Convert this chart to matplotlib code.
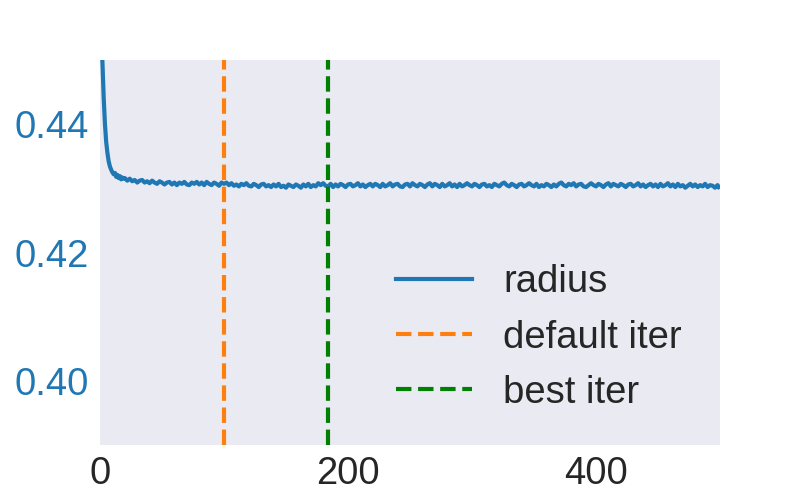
import matplotlib
matplotlib.use("Agg")
import matplotlib.pyplot as plt

plt.rcParams['font.family'] = ['Liberation Sans', 'DejaVu Sans']

# iterations at which radius was recorded
iterations = list(range(0, 20)) + list(range(20, 500, 2)) + [499]

radius = [
    0.4700, 0.4535, 0.4495, 0.4440, 0.4400, 0.4372, 0.4355, 0.4342, 0.4334, 0.4329,
    0.4325, 0.4322, 0.4324, 0.4318, 0.4321, 0.4316, 0.4319, 0.4314, 0.4317, 0.4315,
    # 20 .. 498 step 2
    0.4316, 0.4312, 0.4315, 0.4311, 0.4313, 0.4309, 0.4312, 0.4313, 0.4309, 0.4311,
    0.4308, 0.4312, 0.4309, 0.4307, 0.4311, 0.4309, 0.4306, 0.4309, 0.4310, 0.4306,
    0.4309, 0.4305, 0.4309, 0.4307, 0.4310, 0.4306, 0.4305, 0.4309, 0.4307, 0.4310,
    0.4306, 0.4309, 0.4305, 0.4310, 0.4307, 0.4305, 0.4309, 0.4307, 0.4304, 0.4309,
    0.4307, 0.4309, 0.4305, 0.4308, 0.4304, 0.4306, 0.4303, 0.4307, 0.4305, 0.4308,
    0.4304, 0.4303, 0.4307, 0.4305, 0.4302, 0.4306, 0.4307, 0.4303, 0.4305, 0.4302,
    0.4306, 0.4303, 0.4307, 0.4302, 0.4304, 0.4301, 0.4306, 0.4304, 0.4302, 0.4306,
    0.4304, 0.4301, 0.4306, 0.4303, 0.4307, 0.4302, 0.4305, 0.4303, 0.4308, 0.4305,
    0.4308, 0.4304, 0.4303, 0.4307, 0.4302, 0.4306, 0.4303, 0.4307, 0.4305, 0.4302,
    0.4306, 0.4307, 0.4303, 0.4305, 0.4308, 0.4303, 0.4306, 0.4302, 0.4305, 0.4307,
    0.4303, 0.4307, 0.4305, 0.4302, 0.4307, 0.4303, 0.4305, 0.4308, 0.4303, 0.4306,
    0.4307, 0.4303, 0.4302, 0.4306, 0.4307, 0.4303, 0.4308, 0.4305, 0.4303, 0.4307,
    0.4305, 0.4302, 0.4306, 0.4308, 0.4303, 0.4307, 0.4305, 0.4302, 0.4307, 0.4303,
    0.4305, 0.4308, 0.4303, 0.4306, 0.4302, 0.4307, 0.4303, 0.4305, 0.4308, 0.4305,
    0.4303, 0.4307, 0.4305, 0.4302, 0.4306, 0.4307, 0.4303, 0.4305, 0.4302, 0.4307,
    0.4305, 0.4303, 0.4307, 0.4309, 0.4305, 0.4303, 0.4307, 0.4305, 0.4302, 0.4306,
    0.4307, 0.4303, 0.4305, 0.4308, 0.4305, 0.4303, 0.4307, 0.4302, 0.4305, 0.4303,
    0.4307, 0.4305, 0.4302, 0.4306, 0.4303, 0.4307, 0.4309, 0.4305, 0.4303, 0.4307,
    0.4305, 0.4308, 0.4303, 0.4306, 0.4307, 0.4303, 0.4302, 0.4305, 0.4308, 0.4305,
    0.4303, 0.4307, 0.4305, 0.4302, 0.4306, 0.4308, 0.4303, 0.4307, 0.4305, 0.4303,
    0.4307, 0.4305, 0.4302, 0.4306, 0.4307, 0.4303, 0.4305, 0.4308, 0.4303, 0.4306,
    0.4302, 0.4305, 0.4307, 0.4303, 0.4306, 0.4302, 0.4307, 0.4303, 0.4305, 0.4308,
    0.4303, 0.4306, 0.4302, 0.4307, 0.4303, 0.4305, 0.4301, 0.4304, 0.4307, 0.4303,
    0.4306, 0.4302, 0.4305, 0.4303, 0.4307, 0.4302, 0.4305, 0.4304, 0.4301, 0.4305,
    # 499
    0.4302,
]

default_iter = 100
best_iter = 184

x_ticks = [0, 200, 400]
y_ticks = [0.40, 0.42, 0.44]
y_tick_labels = ["0.40", "0.42", "0.44"]

fig, ax = plt.subplots(figsize=(8, 5), dpi=100)
ax.set_facecolor("#EAEAF2")
for s in ax.spines.values():
    s.set_visible(False)

ax.plot(iterations, radius, color="#1f77b4", lw=3, label="radius")
ax.axvline(default_iter, color="#ff7f0e", lw=3, ls="--", label="default iter")
ax.axvline(best_iter, color="green", lw=3, ls="--", label="best iter")

ax.set_xlim(0, 500)
ax.set_ylim(0.39, 0.45)
ax.set_xticks(x_ticks)
ax.set_yticks(y_ticks)
ax.set_yticklabels(y_tick_labels)
ax.tick_params(axis="x", length=0, pad=8, labelsize=27.5, labelcolor="#262626")
ax.tick_params(axis="y", length=0, pad=8, labelsize=27.5, labelcolor="#1f77b4")
ax.grid(False)

leg = ax.legend(loc="lower right", fontsize=27.5, frameon=False,
                borderaxespad=0.5, bbox_to_anchor=(0.9935, 0.0))
for t in leg.get_texts():
    t.set_color("#262626")

fig.savefig("out.png", dpi=100)
